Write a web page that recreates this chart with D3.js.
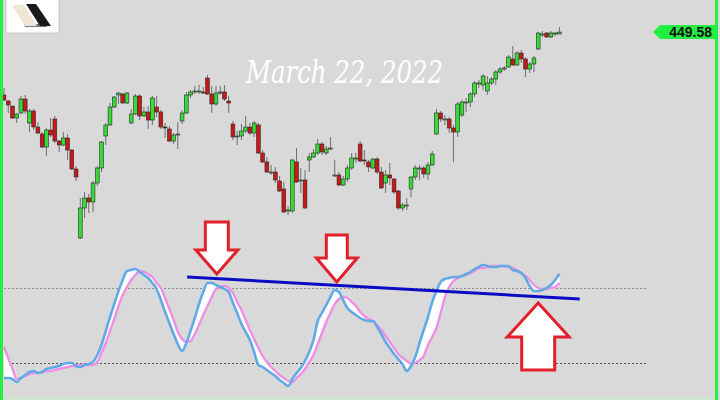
<!DOCTYPE html>
<html>
<head>
<meta charset="utf-8">
<script src="https://cdn.jsdelivr.net/npm/d3@7"></script>
<style>
  html, body { margin: 0; padding: 0; background: #d9d9d9; }
  svg { display: block; }
</style>
</head>
<body>
<svg id="chart"></svg>
<script>
// price candles (one per bar, left to right)
const opens = [
  437.0, 435.8, 434.8, 432.4, 433.4, 436.2, 431.4, 433.8, 430.6, 429.2,
  426.6, 430.0, 432.2, 427.8, 427.0, 428.4, 426.0, 422.2, 408.4, 414.4,
  416.4, 415.6, 419.4, 422.4, 428.8, 431.0, 434.6, 437.0, 437.2, 435.4,
  431.4, 433.2, 436.8, 432.8, 433.6, 432.0, 434.6, 433.6, 430.6, 430.2,
  427.8, 429.0, 431.8, 433.4, 437.0, 437.8, 437.8, 437.6, 440.4, 437.2,
  435.2, 437.6, 437.6, 435.8, 431.2, 428.8, 428.8, 429.8, 430.6, 429.4,
  431.0, 425.4, 423.6, 421.6, 421.6, 419.8, 418.2, 413.8, 413.8, 423.6,
  420.0, 420.0, 424.0, 424.6, 425.4, 427.2, 425.4, 426.4, 421.0, 421.0,
  419.0, 420.2, 422.4, 424.4, 427.2, 424.0, 423.6, 422.4, 424.2, 421.6,
  419.4, 421.0, 420.2, 417.8, 414.4, 415.0, 418.2, 420.6, 422.4, 422.4,
  421.2, 423.0, 429.2, 433.4, 432.2, 432.2, 430.4, 429.6, 433.0, 435.6,
  435.6, 437.2, 439.4, 439.0, 437.8, 439.4, 440.2, 441.6, 442.4, 442.6,
  444.2, 443.0, 445.4, 444.2, 442.2, 443.2, 446.2, 449.2, 449.4, 448.6,
  449.4, 449.2
];
const highs = [
  438.4, 436.0, 434.8, 433.4, 436.8, 437.0, 434.2, 434.2, 431.6, 429.6,
  430.4, 432.4, 432.8, 428.0, 429.6, 429.2, 426.2, 422.8, 416.4, 417.6,
  417.2, 419.8, 422.8, 427.8, 431.4, 435.4, 436.8, 437.6, 437.4, 437.6,
  434.2, 437.2, 437.2, 434.6, 434.8, 436.8, 436.8, 434.0, 431.4, 430.8,
  429.4, 431.6, 434.0, 437.6, 438.0, 438.8, 439.0, 438.6, 441.0, 438.8,
  438.8, 438.8, 439.0, 436.8, 431.8, 429.8, 431.2, 432.8, 431.4, 431.8,
  431.4, 426.0, 424.6, 423.0, 422.6, 420.8, 419.6, 414.8, 424.2, 426.4,
  422.4, 422.0, 425.4, 426.2, 428.2, 427.6, 426.8, 428.6, 424.0, 421.6,
  420.8, 423.0, 425.4, 425.4, 427.8, 426.0, 424.0, 424.4, 424.6, 422.6,
  422.0, 423.4, 420.4, 418.0, 415.4, 416.4, 420.8, 423.0, 423.0, 422.8,
  423.6, 425.8, 434.2, 433.8, 433.0, 432.6, 431.0, 435.6, 436.0, 436.4,
  437.6, 439.8, 440.0, 441.2, 440.8, 440.6, 442.0, 442.6, 442.8, 445.0,
  446.8, 445.8, 446.0, 444.6, 443.6, 444.8, 449.6, 449.8, 449.6, 449.8,
  449.6, 450.6
];
const lows = [
  435.8, 433.4, 432.2, 431.4, 433.2, 433.2, 429.6, 430.0, 429.2, 426.4,
  424.8, 428.6, 427.4, 425.6, 426.8, 424.0, 422.0, 419.8, 408.2, 412.4,
  413.4, 413.6, 418.8, 421.6, 427.0, 430.8, 434.4, 435.2, 435.2, 435.2,
  431.2, 433.0, 432.0, 432.6, 430.2, 431.0, 432.6, 430.2, 428.4, 427.6,
  427.2, 426.2, 431.2, 433.2, 436.4, 437.2, 437.2, 437.2, 437.0, 433.4,
  434.8, 437.0, 435.8, 433.4, 428.0, 427.0, 428.0, 429.4, 429.0, 428.6,
  425.2, 423.4, 421.4, 421.0, 419.4, 417.6, 413.4, 413.0, 413.4, 419.4,
  417.4, 414.2, 421.6, 424.4, 425.0, 425.0, 425.0, 426.0, 420.6, 418.8,
  418.8, 419.6, 422.0, 423.4, 423.6, 423.0, 421.6, 422.2, 421.2, 418.2,
  417.4, 419.0, 417.2, 414.0, 413.8, 414.0, 416.6, 420.0, 420.0, 420.4,
  420.0, 422.8, 429.0, 431.6, 431.0, 429.4, 423.6, 428.6, 432.6, 433.6,
  434.6, 436.6, 438.4, 438.0, 437.0, 439.0, 439.0, 441.2, 441.8, 442.4,
  442.8, 442.8, 443.4, 440.6, 441.4, 441.6, 446.0, 448.6, 448.4, 448.4,
  448.8, 449.2
];
const closes = [
  436.0, 435.0, 432.4, 433.2, 436.2, 433.8, 433.8, 430.6, 429.4, 426.6,
  430.0, 429.0, 427.8, 427.0, 428.4, 426.0, 422.2, 420.6, 414.4, 416.4,
  415.6, 419.4, 422.4, 427.6, 431.0, 434.6, 436.6, 437.4, 435.4, 437.4,
  433.2, 436.8, 432.8, 433.6, 432.0, 436.4, 433.6, 430.6, 430.4, 427.8,
  429.0, 429.2, 433.4, 437.0, 437.6, 437.8, 437.8, 437.5, 437.2, 435.2,
  437.4, 437.6, 436.2, 435.4, 428.6, 428.8, 429.8, 430.6, 429.4, 431.4,
  425.4, 423.6, 421.6, 421.6, 420.0, 417.8, 413.6, 414.0, 424.0, 419.6,
  420.0, 414.4, 424.6, 425.4, 427.2, 425.6, 426.2, 426.4, 421.0, 419.0,
  420.2, 422.4, 424.4, 424.4, 423.8, 423.8, 422.6, 424.2, 421.6, 418.4,
  421.0, 420.4, 417.6, 414.4, 415.0, 415.0, 420.6, 422.4, 422.4, 421.2,
  423.0, 425.2, 433.4, 432.2, 432.2, 430.4, 429.6, 435.2, 435.6, 435.6,
  437.2, 439.4, 439.4, 440.8, 439.4, 440.2, 441.6, 442.2, 442.4, 444.6,
  443.0, 445.4, 444.2, 442.2, 443.2, 444.4, 449.4, 449.2, 448.6, 449.4,
  449.4, 449.58
];

// stochastic oscillator, %K (blue) and %D (pink)
const kValues = [
  8, 8, 7.2, 4.8, 8, 10.4, 12.8, 13.6, 12, 12.8,
  15.2, 16, 16.8, 17.6, 19.2, 20, 20, 17.6, 16.8, 18.4,
  19.2, 20.8, 26.4, 34.4, 45.6, 56.8, 67.2, 77.6, 86.4, 93.6,
  94.4, 95.2, 92.8, 90.4, 88, 84, 79.2, 70.4, 60.8, 52,
  43.2, 35.2, 29.6, 36, 45.6, 56, 67.2, 76.8, 84, 84,
  82.4, 80.8, 79.2, 76.8, 68, 60, 51.2, 44.8, 38.4, 28.8,
  18.4, 16.8, 14.4, 12, 9.6, 6.4, 4, 1.6, 7.2, 12,
  16, 21.6, 28.8, 38.4, 53.6, 60, 66.4, 72.8, 78.4, 76.8,
  70.4, 64, 60.8, 58.4, 56, 54.4, 53.6, 53.6, 48.8, 43.2,
  36.8, 32, 27.2, 23.2, 19.2, 13.6, 17.6, 24.8, 36, 46.4,
  56.8, 68.8, 77.6, 84.8, 87.2, 88, 88.8, 88.8, 89.6, 91.2,
  92.8, 95.2, 96.8, 98.4, 97.6, 96.8, 96.8, 97.6, 97.6, 97.6,
  94.4, 93.6, 92, 88, 81.6, 77.6, 77.6, 78.4, 80, 82.4,
  86.4, 91.2
];
const dValues = [
  32.8, 24, 15.2, 7.2, 8, 9.6, 11.2, 12, 12, 12.8,
  13.6, 13.6, 14.4, 15.2, 16, 16.8, 17.6, 17.6, 18.4, 18.4,
  18.4, 18.4, 20.8, 28, 36, 45.6, 55.2, 65.6, 74.4, 80.8,
  86.4, 90.4, 93.6, 92.8, 91.2, 88.8, 84, 80, 72, 63.2,
  54.4, 44.8, 39.2, 36.8, 37.6, 43.2, 50.4, 58.4, 65.6, 72.8,
  79.2, 80.8, 81.6, 80, 76, 68.8, 62.4, 54.4, 46.4, 39.2,
  32, 25.6, 20.8, 16.8, 13.6, 10.4, 8, 5.6, 4.8, 8,
  11.2, 15.2, 20.8, 26.4, 35.2, 44, 52.8, 60, 67.2, 71.2,
  72.8, 72, 68.8, 65.6, 60.8, 57.6, 55.2, 53.6, 50.4, 46.4,
  41.6, 36.8, 32, 27.2, 24, 21.6, 19.2, 20, 22.4, 25.6,
  34.4, 40.8, 48, 60, 72.8, 80.8, 85.6, 88, 89.6, 90.4,
  92, 93.6, 96, 96, 96.8, 97.6, 97.6, 97.6, 97.6, 96.8,
  96, 94.4, 92, 89.6, 86.4, 82.4, 80, 79.2, 79.2, 80,
  80.8, 84
];

const levels = [80, 20];
const lastPrice = "449.58";
const dateLabel = "March 22, 2022";

// hand-drawn divergence line and arrows (bar index, oscillator value)
const trendLine = [{ i: 43.2, v: 88.8 }, { i: 135.8, v: 71.2 }];
const arrows = [
  { i: 50.2, v: 91.2, dir: "down", hw: 21, hh: 24, sw: 11.5, sh: 28 },
  { i: 78.5, v: 84.8, dir: "down", hw: 20.5, hh: 24, sw: 10.5, sh: 23 },
  { i: 126, v: 68, dir: "up", hw: 31, hh: 34, sw: 16.5, sh: 33 },
];

const width = 720;
const height = 400;

const svg = d3.select("#chart").attr("width", width).attr("height", height);

const x = d3.scaleLinear().domain([0, closes.length - 1]).range([4, 559.4]);
const y = d3.scaleLinear().domain([400, 460]).range([280, -20]);
const yOsc = d3.scaleLinear().domain([0, 100]).range([388, 263]);

svg.append("rect").attr("width", width).attr("height", height).attr("fill", "#d9d9d9");

// logo
const logo = svg.append("g");
logo.append("rect").attr("x", 6).attr("y", -1).attr("width", 53).attr("height", 34)
  .attr("fill", "#fff").attr("stroke", "#c8c8c8");
logo.append("polygon").attr("points", "24,24 46,24 47,27 25,27").attr("fill", "#777");
logo.append("polygon").attr("points", "12,5 24,5 37,26 25,26").attr("fill", "#efe6d6");
logo.append("polygon").attr("points", "26,4 36,4 51,26 40,26").attr("fill", "#1a1a1a");

// date title
svg.append("text")
  .attr("x", 246).attr("y", 83)
  .attr("textLength", 197).attr("lengthAdjust", "spacingAndGlyphs")
  .attr("font-family", "DejaVu Serif").attr("font-style", "italic")
  .attr("font-size", 31).attr("fill", "#fff")
  .text(dateLabel);

// candles
const bars = d3.range(closes.length).map((i) => ({
  i, o: opens[i], h: highs[i], l: lows[i], c: closes[i],
}));

const g_candles = svg.append("g");
g_candles.selectAll("line").data(bars).enter().append("line")
  .attr("x1", (d) => x(d.i)).attr("x2", (d) => x(d.i))
  .attr("y1", (d) => y(d.h)).attr("y2", (d) => y(d.l))
  .attr("stroke", "#6e6e6e").attr("stroke-width", 1);
g_candles.selectAll("rect").data(bars).enter().append("rect")
  .attr("x", (d) => x(d.i) - 1.9)
  .attr("width", 3.8)
  .attr("y", (d) => y(Math.max(d.o, d.c)))
  .attr("height", (d) => Math.max(1, Math.abs(y(d.o) - y(d.c))))
  .attr("fill", (d) => (d.c >= d.o ? "#33dd33" : "#c81818"))
  .attr("stroke", "#2a2a2a").attr("stroke-width", 0.6);

// oscillator levels
svg.append("g").selectAll("line").data(levels).enter().append("line")
  .attr("x1", 0).attr("x2", 647)
  .attr("y1", (d) => Math.round(yOsc(d)) + 0.5).attr("y2", (d) => Math.round(yOsc(d)) + 0.5)
  .attr("stroke", (d) => (d > 50 ? "#8a8a8a" : "#555"))
  .attr("stroke-dasharray", "2,2");

// oscillator
const osc = d3.range(kValues.length).map((i) => ({ i, k: kValues[i], d: dValues[i] }));
svg.append("path").datum(osc)
  .attr("fill", "#fff")
  .attr("d", d3.area().x((d) => x(d.i)).y0((d) => yOsc(d.k)).y1((d) => yOsc(d.d)).curve(d3.curveMonotoneX));
svg.append("path").datum(osc)
  .attr("fill", "none").attr("stroke", "#ee8ee4").attr("stroke-width", 2.4)
  .attr("d", d3.line().x((d) => x(d.i)).y((d) => yOsc(d.d)).curve(d3.curveMonotoneX));
svg.append("path").datum(osc)
  .attr("fill", "none").attr("stroke", "#62aae6").attr("stroke-width", 2.6)
  .attr("d", d3.line().x((d) => x(d.i)).y((d) => yOsc(d.k)).curve(d3.curveMonotoneX));

// divergence line
svg.append("line")
  .attr("x1", x(trendLine[0].i)).attr("y1", yOsc(trendLine[0].v))
  .attr("x2", x(trendLine[1].i)).attr("y2", yOsc(trendLine[1].v))
  .attr("stroke", "#0b0bc4").attr("stroke-width", 3);

// arrows
const arrowPoints = (a) => {
  const tx = x(a.i);
  const ty = yOsc(a.v);
  const s = a.dir === "down" ? -1 : 1;
  const pts = [
    [tx - a.sw, ty + s * (a.hh + a.sh)],
    [tx + a.sw, ty + s * (a.hh + a.sh)],
    [tx + a.sw, ty + s * a.hh],
    [tx + a.hw, ty + s * a.hh],
    [tx, ty],
    [tx - a.hw, ty + s * a.hh],
    [tx - a.sw, ty + s * a.hh],
  ];
  return pts.map((p) => p.join(",")).join(" ");
};
svg.append("g").selectAll("polygon").data(arrows).enter().append("polygon")
  .attr("points", arrowPoints)
  .attr("fill", "#fff").attr("stroke", "#e0202a").attr("stroke-width", 3)
  .attr("stroke-linejoin", "miter");

// last price tag
const py = y(+lastPrice);
svg.append("polygon")
  .attr("points", [[653, py], [660, py - 7], [715, py - 7], [715, py + 7], [660, py + 7]].map((p) => p.join(",")).join(" "))
  .attr("fill", "#22ee44");
svg.append("text")
  .attr("x", 712).attr("y", py + 5)
  .attr("text-anchor", "end")
  .attr("font-family", "Liberation Sans, Arial").attr("font-weight", "bold")
  .attr("font-size", 14).attr("fill", "#111")
  .text(lastPrice);

// frame
svg.append("rect").attr("x", 0).attr("y", 0).attr("width", 3).attr("height", height).attr("fill", "#22ee44");
svg.append("rect").attr("x", 715).attr("y", 0).attr("width", 3).attr("height", height).attr("fill", "#22ee44");
svg.append("rect").attr("x", 3).attr("y", 397).attr("width", 712).attr("height", 3).attr("fill", "#cde6cd");
</script>
</body>
</html>
